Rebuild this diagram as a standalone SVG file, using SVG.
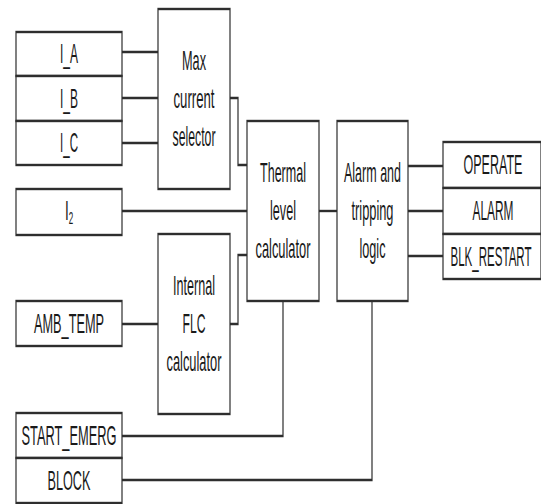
<svg xmlns="http://www.w3.org/2000/svg" width="541" height="504" viewBox="0 0 541 504">
<style>
.b{fill:#fff;stroke:#2e2e2e;stroke-width:2.4}
.c{fill:none;stroke:#2e2e2e;stroke-width:2.4}
text{font-family:"Liberation Sans",Arial,sans-serif;font-size:27px;fill:#1a1a1a;text-anchor:middle}
</style>
<rect width="541" height="504" fill="#fff"/>
<g transform="scale(0.5,1)">
<g id="connectors">
<path class="c" d="M244,52H316M244,98H316M244,143H316"/>
<path class="c" d="M460,98H476V165H494"/>
<path class="c" d="M244,211H494"/>
<path class="c" d="M460,324H476V255H494"/>
<path class="c" d="M244,324H316"/>
<path class="c" d="M638,211H674"/>
<path class="c" d="M816,166H886M816,211H886M816,256H886"/>
<path class="c" d="M244,436H566V301"/>
<path class="c" d="M244,480H744V301"/>
</g>
<g id="I_A"><rect class="b" x="32" y="32" width="212" height="44"/><text x="138" y="63.5" textLength="36" lengthAdjust="spacingAndGlyphs">I_A</text></g>
<g id="I_B"><rect class="b" x="32" y="76" width="212" height="45"/><text x="138" y="108" textLength="36" lengthAdjust="spacingAndGlyphs">I_B</text></g>
<g id="I_C"><rect class="b" x="32" y="121" width="212" height="44"/><text x="138" y="152.5" textLength="36" lengthAdjust="spacingAndGlyphs">I_C</text></g>
<g id="I2"><rect class="b" x="32" y="189" width="212" height="46"/><text x="138" y="220.5">I<tspan font-size="16" dy="4">2</tspan></text></g>
<g id="AMB_TEMP"><rect class="b" x="32" y="301" width="212" height="45"/><text x="138" y="333" textLength="140" lengthAdjust="spacingAndGlyphs">AMB_TEMP</text></g>
<g id="START_EMERG"><rect class="b" x="32" y="413" width="212" height="45"/><text x="138" y="445" textLength="190" lengthAdjust="spacingAndGlyphs">START_EMERG</text></g>
<g id="BLOCK"><rect class="b" x="32" y="458" width="212" height="45"/><text x="138" y="490" textLength="86" lengthAdjust="spacingAndGlyphs">BLOCK</text></g>
<g id="max_current_selector"><rect class="b" x="316" y="9" width="144" height="180"/>
<text x="388" y="70.5" textLength="48" lengthAdjust="spacingAndGlyphs">Max</text>
<text x="388" y="108.5" textLength="82" lengthAdjust="spacingAndGlyphs">current</text>
<text x="388" y="146.5" textLength="86" lengthAdjust="spacingAndGlyphs">selector</text></g>
<g id="internal_flc_calculator"><rect class="b" x="316" y="234" width="144" height="180"/>
<text x="388" y="295.5" textLength="84" lengthAdjust="spacingAndGlyphs">Internal</text>
<text x="388" y="333.5" textLength="46" lengthAdjust="spacingAndGlyphs">FLC</text>
<text x="388" y="371.5" textLength="110" lengthAdjust="spacingAndGlyphs">calculator</text></g>
<g id="thermal_level_calculator"><rect class="b" x="494" y="121" width="144" height="180"/>
<text x="566" y="182.5" textLength="92" lengthAdjust="spacingAndGlyphs">Thermal</text>
<text x="566" y="220.5" textLength="52" lengthAdjust="spacingAndGlyphs">level</text>
<text x="566" y="258.5" textLength="110" lengthAdjust="spacingAndGlyphs">calculator</text></g>
<g id="alarm_tripping_logic"><rect class="b" x="674" y="121" width="142" height="180"/>
<text x="745" y="182.5" textLength="114" lengthAdjust="spacingAndGlyphs">Alarm and</text>
<text x="745" y="220.5" textLength="84" lengthAdjust="spacingAndGlyphs">tripping</text>
<text x="745" y="258.5" textLength="52" lengthAdjust="spacingAndGlyphs">logic</text></g>
<g id="OPERATE"><rect class="b" x="886" y="142" width="196" height="46"/><text x="986" y="174.5" textLength="118" lengthAdjust="spacingAndGlyphs">OPERATE</text></g>
<g id="ALARM"><rect class="b" x="886" y="188" width="196" height="46"/><text x="986" y="220.5" textLength="82" lengthAdjust="spacingAndGlyphs">ALARM</text></g>
<g id="BLK_RESTART"><rect class="b" x="886" y="234" width="196" height="45"/><text x="982" y="266" textLength="162" lengthAdjust="spacingAndGlyphs">BLK_RESTART</text></g>
</g>
</svg>
